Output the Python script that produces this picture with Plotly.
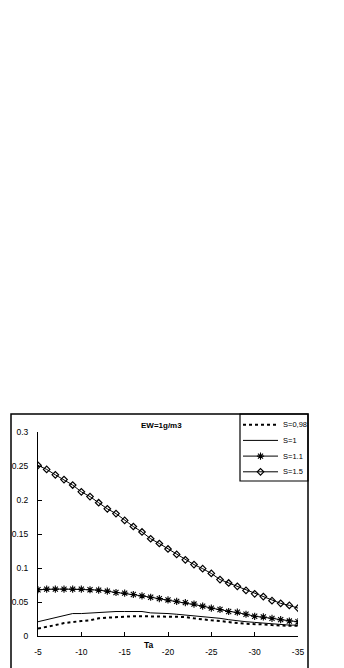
import plotly.graph_objects as go

ta = list(range(-5, -36, -1))

s098 = [0.011, 0.013, 0.016, 0.019, 0.021, 0.022, 0.023, 0.026, 0.027, 0.028,
        0.029, 0.029, 0.029, 0.029, 0.029, 0.029, 0.028, 0.028, 0.026, 0.024,
        0.023, 0.022, 0.020, 0.019, 0.018, 0.018, 0.017, 0.016, 0.015, 0.015, 0.015]
s1 = [0.021, 0.024, 0.026, 0.030, 0.033, 0.033, 0.034, 0.034, 0.036, 0.036,
      0.036, 0.036, 0.036, 0.034, 0.034, 0.033, 0.032, 0.031, 0.030, 0.028,
      0.027, 0.026, 0.024, 0.022, 0.021, 0.020, 0.019, 0.017, 0.017, 0.016, 0.016]
s11 = [0.068, 0.069, 0.069, 0.069, 0.069, 0.069, 0.068, 0.0675, 0.066, 0.064,
       0.063, 0.061, 0.059, 0.057, 0.055, 0.053, 0.051, 0.049, 0.047, 0.044,
       0.041, 0.039, 0.036, 0.035, 0.032, 0.029, 0.028, 0.026, 0.024, 0.022, 0.021]
s15 = [0.251, 0.245, 0.237, 0.230, 0.222, 0.212, 0.205, 0.196, 0.187, 0.180,
       0.170, 0.161, 0.153, 0.143, 0.136, 0.128, 0.120, 0.112, 0.105, 0.099,
       0.092, 0.083, 0.078, 0.073, 0.067, 0.062, 0.058, 0.052, 0.048, 0.045, 0.041]

series_names = ["S=0,98", "S=1", "S=1.1", "S=1.5"]
x_tickvals = [-5, -10, -15, -20, -25, -30, -35]
x_ticktext = ["-5", "-10", "-15", "-20", "-25", "-30", "-35"]
y_tickvals = [0, 0.05, 0.1, 0.15, 0.2, 0.25, 0.3]
y_ticktext = ["0", "0.05", "0.1", "0.15", "0.2", "0.25", "0.3"]
title_text = "EW=1g/m3"
x_title = "Ta"

W, H = 344, 668
FONT = "Liberation Sans, Arial"

def px(x):
    return x / W

def py(y):
    return (H - y) / H

styles = [
    dict(mode="lines", line=dict(color="black", width=2, dash="3px,3px")),
    dict(mode="lines", line=dict(color="black", width=1)),
    dict(mode="lines+markers", line=dict(color="black", width=1),
         marker=dict(symbol="asterisk-open", size=6, color="black",
                     line=dict(color="black", width=1.1))),
    dict(mode="lines+markers", line=dict(color="black", width=1),
         marker=dict(symbol="diamond-open", size=5, color="black",
                     line=dict(color="black", width=1.2))),
]
values = [s098, s1, s11, s15]

fig = go.Figure()
for name, vals, st in zip(series_names, values, styles):
    fig.add_trace(go.Scatter(x=ta, y=vals, name=name, showlegend=False, **st))

# legend drawn on a small helper axis inside the legend box
for i, (name, st) in enumerate(zip(series_names, styles)):
    row = i + 1
    fig.add_trace(go.Scatter(x=[0, 1], y=[row, row], mode="lines",
                             line=st["line"], xaxis="x2", yaxis="y2",
                             showlegend=False, hoverinfo="skip"))
    if "marker" in st:
        fig.add_trace(go.Scatter(x=[0.5], y=[row], mode="markers",
                                 marker=st["marker"], xaxis="x2", yaxis="y2",
                                 showlegend=False, hoverinfo="skip"))
    fig.add_annotation(text=name, x=px(280.5), y=row, xref="paper", yref="y2",
                       xanchor="left", yanchor="middle", showarrow=False,
                       font=dict(family=FONT, size=7.5))

fig.update_layout(
    width=W, height=H,
    margin=dict(l=0, r=0, t=0, b=0),
    paper_bgcolor="white", plot_bgcolor="white",
    font=dict(family=FONT, size=8.5, color="black"),
    xaxis=dict(domain=[px(38), px(298)], range=[-5, -35],
               tickvals=x_tickvals, ticktext=x_ticktext,
               ticks="inside", ticklen=4, tickcolor="black",
               showline=True, linecolor="black", linewidth=1,
               showgrid=False, zeroline=False, automargin=False,
               tickfont=dict(size=8.5), ticklabelstandoff=8),
    yaxis=dict(domain=[py(636), py(432)], range=[0, 0.3],
               tickvals=y_tickvals, ticktext=y_ticktext,
               ticks="inside", ticklen=4, tickcolor="black",
               showline=True, linecolor="black", linewidth=1,
               showgrid=False, zeroline=False, automargin=False,
               tickfont=dict(size=8.5), ticklabelstandoff=7),
    xaxis2=dict(domain=[px(243), px(278)], range=[0, 1], visible=False,
                anchor="y2", fixedrange=True, automargin=False),
    yaxis2=dict(domain=[py(487.5), py(409)], range=[5, 0], visible=False,
                anchor="x2", fixedrange=True, automargin=False),
    showlegend=False,
)

fig.add_annotation(text="<b>" + title_text + "</b>", x=px(161.5), y=py(425),
                   xref="paper", yref="paper", showarrow=False,
                   font=dict(family=FONT, size=8))
fig.add_annotation(text="<b>" + x_title + "</b>", x=px(149), y=py(652),
                   xref="paper", yref="paper", showarrow=False,
                   font=dict(family=FONT, size=8.5))

# outer chart frame and legend box
fig.add_shape(type="rect", xref="paper", yref="paper",
              x0=px(11), x1=px(308), y0=-0.02, y1=py(414),
              line=dict(color="black", width=1.5))
fig.add_shape(type="rect", xref="paper", yref="paper",
              x0=px(240), x1=px(308), y0=py(481), y1=py(414),
              line=dict(color="black", width=1.2))

fig.write_html("out.html", config={"displayModeBar": False},
               post_script="document.body.style.margin='0';document.body.style.overflow='hidden';")
